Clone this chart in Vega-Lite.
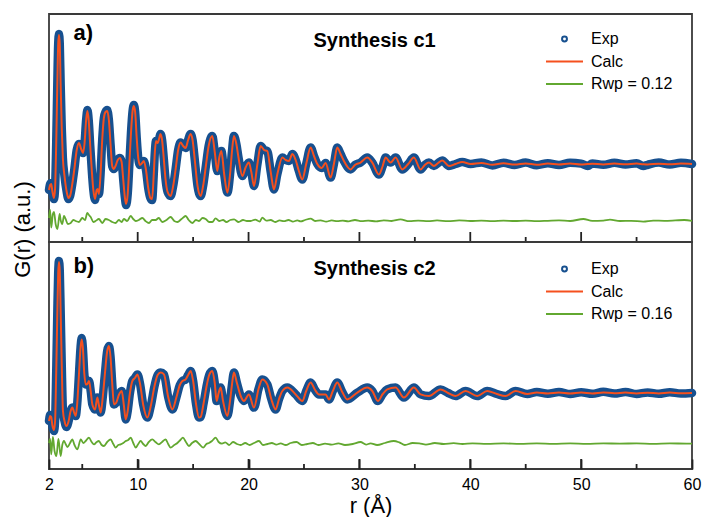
{
  "$schema": "https://vega.github.io/schema/vega-lite/v6.json",
  "padding": {"left": 10, "top": 13, "right": 4, "bottom": 0},
  "bounds": "flush",
  "spacing": 0,
  "config": {
    "font": "Liberation Sans",
    "view": {"stroke": "#3a3a3a", "strokeWidth": 1.8},
    "axis": {"labelFont": "Liberation Sans", "titleFont": "Liberation Sans", "labelColor": "#000", "titleColor": "#000", "titleFontWeight": "normal"}
  },
  "resolve": {"scale": {"color": "independent", "y": "independent"}, "legend": {"color": "independent"}},
  "datasets": {
    "fit": [
      {"p":"a","r":2.0,"e":-1.3,"c":-1.3},{"p":"a","r":2.1,"e":-1.0,"c":-1.05},{"p":"a","r":2.2,"e":-0.95,"c":-1.0},{"p":"a","r":2.3,"e":-1.4,"c":-1.35},{"p":"a","r":2.45,"e":-1.75,"c":-1.7},{"p":"a","r":2.55,"e":-1.2,"c":-1.2},{"p":"a","r":2.65,"e":1.0,"c":1.0},{"p":"a","r":2.75,"e":4.0,"c":4.0},{"p":"a","r":2.83,"e":6.0,"c":6.0},{"p":"a","r":2.9,"e":6.5,"c":6.45},{"p":"a","r":2.97,"e":6.0,"c":6.0},{"p":"a","r":3.05,"e":4.0,"c":4.0},{"p":"a","r":3.15,"e":1.8,"c":1.8},{"p":"a","r":3.25,"e":0.3,"c":0.3},{"p":"a","r":3.4,"e":-0.6,"c":-0.6},{"p":"a","r":3.6,"e":-1.4,"c":-1.4},{"p":"a","r":3.75,"e":-1.75,"c":-1.7},{"p":"a","r":3.9,"e":-1.6,"c":-1.6},{"p":"a","r":4.1,"e":-1.0,"c":-1.0},{"p":"a","r":4.3,"e":-0.2,"c":-0.2},{"p":"a","r":4.5,"e":0.7,"c":0.7},{"p":"a","r":4.7,"e":1.0,"c":1.05},{"p":"a","r":4.9,"e":0.75,"c":0.75},{"p":"a","r":5.07,"e":0.55,"c":0.55},{"p":"a","r":5.2,"e":1.0,"c":1.0},{"p":"a","r":5.35,"e":2.2,"c":2.2},{"p":"a","r":5.46,"e":2.7,"c":2.65},{"p":"a","r":5.58,"e":2.2,"c":2.2},{"p":"a","r":5.72,"e":0.9,"c":0.9},{"p":"a","r":5.87,"e":-0.4,"c":-0.4},{"p":"a","r":6.0,"e":-1.3,"c":-1.3},{"p":"a","r":6.15,"e":-1.8,"c":-1.75},{"p":"a","r":6.3,"e":-1.3,"c":-1.3},{"p":"a","r":6.4,"e":-1.25,"c":-1.25},{"p":"a","r":6.5,"e":-1.5,"c":-1.5},{"p":"a","r":6.65,"e":-0.5,"c":-0.5},{"p":"a","r":6.8,"e":1.2,"c":1.2},{"p":"a","r":6.95,"e":2.3,"c":2.3},{"p":"a","r":7.1,"e":2.6,"c":2.6},{"p":"a","r":7.25,"e":2.7,"c":2.65},{"p":"a","r":7.4,"e":2.2,"c":2.2},{"p":"a","r":7.55,"e":1.0,"c":1.0},{"p":"a","r":7.7,"e":-0.1,"c":-0.1},{"p":"a","r":7.85,"e":-0.25,"c":-0.25},{"p":"a","r":8.0,"e":-0.1,"c":-0.1},{"p":"a","r":8.2,"e":0.2,"c":0.2},{"p":"a","r":8.4,"e":0.3,"c":0.3},{"p":"a","r":8.55,"e":0.1,"c":0.1},{"p":"a","r":8.7,"e":-0.8,"c":-0.8},{"p":"a","r":8.85,"e":-1.7,"c":-1.7},{"p":"a","r":8.95,"e":-2.05,"c":-2.0},{"p":"a","r":9.1,"e":-1.5,"c":-1.5},{"p":"a","r":9.25,"e":0.0,"c":0.0},{"p":"a","r":9.4,"e":1.6,"c":1.6},{"p":"a","r":9.55,"e":2.7,"c":2.7},{"p":"a","r":9.65,"e":2.95,"c":2.9},{"p":"a","r":9.77,"e":2.6,"c":2.6},{"p":"a","r":9.9,"e":1.4,"c":1.4},{"p":"a","r":10.05,"e":0.3,"c":0.3},{"p":"a","r":10.2,"e":-0.05,"c":-0.05},{"p":"a","r":10.4,"e":0.05,"c":0.05},{"p":"a","r":10.55,"e":0.15,"c":0.15},{"p":"a","r":10.75,"e":-0.3,"c":-0.3},{"p":"a","r":10.95,"e":-1.2,"c":-1.2},{"p":"a","r":11.15,"e":-1.7,"c":-1.7},{"p":"a","r":11.3,"e":-1.8,"c":-1.75},{"p":"a","r":11.45,"e":-0.5,"c":-0.5},{"p":"a","r":11.55,"e":0.6,"c":0.6},{"p":"a","r":11.65,"e":1.15,"c":1.15},{"p":"a","r":11.8,"e":1.05,"c":1.05},{"p":"a","r":11.95,"e":1.3,"c":1.3},{"p":"a","r":12.05,"e":1.5,"c":1.5},{"p":"a","r":12.2,"e":1.2,"c":1.2},{"p":"a","r":12.35,"e":0.3,"c":0.3},{"p":"a","r":12.5,"e":-0.7,"c":-0.7},{"p":"a","r":12.7,"e":-1.4,"c":-1.4},{"p":"a","r":12.97,"e":-1.6,"c":-1.6},{"p":"a","r":13.2,"e":-1.1,"c":-1.1},{"p":"a","r":13.42,"e":-0.27,"c":-0.27},{"p":"a","r":13.65,"e":0.7,"c":0.7},{"p":"a","r":13.87,"e":1.07,"c":1.07},{"p":"a","r":14.1,"e":0.9,"c":0.9},{"p":"a","r":14.32,"e":0.8,"c":0.8},{"p":"a","r":14.55,"e":1.2,"c":1.2},{"p":"a","r":14.77,"e":1.5,"c":1.5},{"p":"a","r":14.95,"e":1.2,"c":1.2},{"p":"a","r":15.15,"e":0.2,"c":0.2},{"p":"a","r":15.4,"e":-1.1,"c":-1.1},{"p":"a","r":15.68,"e":-1.6,"c":-1.6},{"p":"a","r":15.9,"e":-1.1,"c":-1.1},{"p":"a","r":16.15,"e":-0.1,"c":-0.1},{"p":"a","r":16.4,"e":0.9,"c":0.9},{"p":"a","r":16.73,"e":1.4,"c":1.4},{"p":"a","r":16.95,"e":0.6,"c":0.6},{"p":"a","r":17.18,"e":-0.35,"c":-0.35},{"p":"a","r":17.35,"e":0.3,"c":0.3},{"p":"a","r":17.55,"e":0.65,"c":0.65},{"p":"a","r":17.8,"e":-0.5,"c":-0.5},{"p":"a","r":18.09,"e":-1.43,"c":-1.43},{"p":"a","r":18.35,"e":-0.4,"c":-0.4},{"p":"a","r":18.5,"e":0.6,"c":0.6},{"p":"a","r":18.68,"e":1.4,"c":1.4},{"p":"a","r":18.9,"e":1.0,"c":1.0},{"p":"a","r":19.1,"e":0.3,"c":0.3},{"p":"a","r":19.44,"e":-0.6,"c":-0.6},{"p":"a","r":19.75,"e":-0.15,"c":-0.15},{"p":"a","r":20.03,"e":0.07,"c":0.07},{"p":"a","r":20.25,"e":-0.4,"c":-0.4},{"p":"a","r":20.49,"e":-1.1,"c":-1.1},{"p":"a","r":20.8,"e":0.0,"c":0.0},{"p":"a","r":21.09,"e":0.9,"c":0.9},{"p":"a","r":21.4,"e":0.7,"c":0.7},{"p":"a","r":21.69,"e":0.65,"c":0.65},{"p":"a","r":22.0,"e":-0.4,"c":-0.4},{"p":"a","r":22.29,"e":-1.27,"c":-1.27},{"p":"a","r":22.6,"e":-0.5,"c":-0.5},{"p":"a","r":23.05,"e":0.32,"c":0.32},{"p":"a","r":23.35,"e":0.2,"c":0.2},{"p":"a","r":23.64,"e":0.15,"c":0.15},{"p":"a","r":23.95,"e":0.5,"c":0.5},{"p":"a","r":24.25,"e":0.2,"c":0.2},{"p":"a","r":24.54,"e":-0.35,"c":-0.35},{"p":"a","r":24.85,"e":-0.77,"c":-0.77},{"p":"a","r":25.2,"e":0.0,"c":0.0},{"p":"a","r":25.6,"e":0.82,"c":0.82},{"p":"a","r":25.9,"e":0.4,"c":0.4},{"p":"a","r":26.2,"e":0.0,"c":0.0},{"p":"a","r":26.6,"e":-0.2,"c":-0.2},{"p":"a","r":26.95,"e":0.05,"c":0.05},{"p":"a","r":27.4,"e":-0.68,"c":-0.68},{"p":"a","r":27.7,"e":0.0,"c":0.0},{"p":"a","r":28.0,"e":0.82,"c":0.82},{"p":"a","r":28.3,"e":0.5,"c":0.5},{"p":"a","r":28.6,"e":0.15,"c":0.15},{"p":"a","r":29.2,"e":-0.27,"c":-0.27},{"p":"a","r":29.6,"e":-0.05,"c":-0.05},{"p":"a","r":30.1,"e":0.07,"c":0.07},{"p":"a","r":30.71,"e":0.32,"c":0.32},{"p":"a","r":31.16,"e":0.07,"c":0.07},{"p":"a","r":31.76,"e":-0.52,"c":-0.52},{"p":"a","r":32.1,"e":-0.1,"c":-0.1},{"p":"a","r":32.36,"e":0.32,"c":0.32},{"p":"a","r":32.81,"e":0.07,"c":0.07},{"p":"a","r":33.26,"e":0.32,"c":0.32},{"p":"a","r":33.87,"e":-0.27,"c":-0.27},{"p":"a","r":34.4,"e":0.0,"c":0.0},{"p":"a","r":34.91,"e":0.32,"c":0.32},{"p":"a","r":35.52,"e":-0.27,"c":-0.27},{"p":"a","r":35.9,"e":-0.05,"c":-0.05},{"p":"a","r":36.27,"e":0.07,"c":0.07},{"p":"a","r":36.72,"e":-0.1,"c":-0.1},{"p":"a","r":37.1,"e":0.05,"c":0.05},{"p":"a","r":37.47,"e":0.18,"c":0.18},{"p":"a","r":38.07,"e":-0.1,"c":-0.1},{"p":"a","r":38.67,"e":0.0,"c":0.0},{"p":"a","r":39.28,"e":0.1,"c":0.1},{"p":"a","r":40.03,"e":0.0,"c":0.0},{"p":"a","r":41,"e":0.08,"c":0.05},{"p":"a","r":42,"e":-0.07,"c":-0.04},{"p":"a","r":43,"e":0.06,"c":0.04},{"p":"a","r":44,"e":-0.05,"c":-0.03},{"p":"a","r":45,"e":0.07,"c":0.03},{"p":"a","r":46,"e":-0.06,"c":-0.04},{"p":"a","r":47,"e":0.04,"c":0.02},{"p":"a","r":48,"e":-0.05,"c":-0.02},{"p":"a","r":49,"e":0.06,"c":0.03},{"p":"a","r":50,"e":0.02,"c":-0.02},{"p":"a","r":50.6,"e":-0.1,"c":0.0},{"p":"a","r":51,"e":0.03,"c":0.01},{"p":"a","r":52,"e":-0.04,"c":-0.02},{"p":"a","r":53,"e":0.06,"c":0.02},{"p":"a","r":54,"e":-0.03,"c":-0.01},{"p":"a","r":55,"e":0.04,"c":0.02},{"p":"a","r":55.6,"e":-0.1,"c":-0.01},{"p":"a","r":56,"e":-0.04,"c":-0.02},{"p":"a","r":57,"e":0.07,"c":0.01},{"p":"a","r":58,"e":-0.03,"c":-0.01},{"p":"a","r":59,"e":0.06,"c":0.02},{"p":"a","r":60,"e":0.0,"c":0.0},
      {"p":"b","r":2.0,"e":-1.4,"c":-1.4},{"p":"b","r":2.1,"e":-1.1,"c":-1.15},{"p":"b","r":2.2,"e":-1.2,"c":-1.2},{"p":"b","r":2.3,"e":-1.65,"c":-1.6},{"p":"b","r":2.45,"e":-1.9,"c":-1.85},{"p":"b","r":2.55,"e":-1.4,"c":-1.4},{"p":"b","r":2.65,"e":1.0,"c":1.0},{"p":"b","r":2.75,"e":4.0,"c":4.0},{"p":"b","r":2.83,"e":6.0,"c":6.0},{"p":"b","r":2.9,"e":6.6,"c":6.55},{"p":"b","r":2.97,"e":6.1,"c":6.1},{"p":"b","r":3.05,"e":4.1,"c":4.1},{"p":"b","r":3.15,"e":1.4,"c":1.4},{"p":"b","r":3.26,"e":-0.9,"c":-0.9},{"p":"b","r":3.4,"e":-1.4,"c":-1.4},{"p":"b","r":3.57,"e":-1.7,"c":-1.65},{"p":"b","r":3.75,"e":-1.45,"c":-1.45},{"p":"b","r":3.95,"e":-0.9,"c":-0.9},{"p":"b","r":4.11,"e":-0.73,"c":-0.73},{"p":"b","r":4.25,"e":-0.95,"c":-0.95},{"p":"b","r":4.41,"e":-1.15,"c":-1.15},{"p":"b","r":4.55,"e":-0.5,"c":-0.5},{"p":"b","r":4.7,"e":0.9,"c":0.9},{"p":"b","r":4.85,"e":2.3,"c":2.3},{"p":"b","r":4.95,"e":2.75,"c":2.68},{"p":"b","r":5.05,"e":2.3,"c":2.3},{"p":"b","r":5.18,"e":1.0,"c":1.0},{"p":"b","r":5.31,"e":0.43,"c":0.43},{"p":"b","r":5.45,"e":0.45,"c":0.45},{"p":"b","r":5.61,"e":0.6,"c":0.6},{"p":"b","r":5.76,"e":0.1,"c":0.1},{"p":"b","r":5.91,"e":-0.57,"c":-0.57},{"p":"b","r":6.15,"e":-0.82,"c":-0.82},{"p":"b","r":6.36,"e":-0.23,"c":-0.23},{"p":"b","r":6.5,"e":-0.6,"c":-0.6},{"p":"b","r":6.66,"e":-0.98,"c":-0.98},{"p":"b","r":6.85,"e":-0.2,"c":-0.2},{"p":"b","r":7.05,"e":1.0,"c":1.0},{"p":"b","r":7.25,"e":2.1,"c":2.1},{"p":"b","r":7.41,"e":2.35,"c":2.35},{"p":"b","r":7.55,"e":1.8,"c":1.8},{"p":"b","r":7.7,"e":0.5,"c":0.5},{"p":"b","r":7.86,"e":-0.57,"c":-0.57},{"p":"b","r":8.05,"e":-0.5,"c":-0.5},{"p":"b","r":8.3,"e":-0.1,"c":-0.1},{"p":"b","r":8.56,"e":0.1,"c":0.1},{"p":"b","r":8.75,"e":-0.6,"c":-0.6},{"p":"b","r":8.92,"e":-1.32,"c":-1.32},{"p":"b","r":9.1,"e":-0.9,"c":-0.9},{"p":"b","r":9.3,"e":0.0,"c":0.0},{"p":"b","r":9.52,"e":0.6,"c":0.6},{"p":"b","r":9.75,"e":0.75,"c":0.75},{"p":"b","r":9.97,"e":0.93,"c":0.93},{"p":"b","r":10.2,"e":0.5,"c":0.5},{"p":"b","r":10.5,"e":-0.6,"c":-0.6},{"p":"b","r":10.87,"e":-1.23,"c":-1.23},{"p":"b","r":11.2,"e":-0.6,"c":-0.6},{"p":"b","r":11.5,"e":0.3,"c":0.3},{"p":"b","r":11.8,"e":0.9,"c":0.9},{"p":"b","r":12.07,"e":1.02,"c":1.02},{"p":"b","r":12.37,"e":0.93,"c":0.93},{"p":"b","r":12.75,"e":-0.2,"c":-0.2},{"p":"b","r":13.13,"e":-0.82,"c":-0.82},{"p":"b","r":13.5,"e":-0.2,"c":-0.2},{"p":"b","r":13.8,"e":0.4,"c":0.4},{"p":"b","r":14.03,"e":0.6,"c":0.6},{"p":"b","r":14.33,"e":0.68,"c":0.68},{"p":"b","r":14.55,"e":0.9,"c":0.9},{"p":"b","r":14.78,"e":1.1,"c":1.1},{"p":"b","r":15.0,"e":0.6,"c":0.6},{"p":"b","r":15.25,"e":-0.5,"c":-0.5},{"p":"b","r":15.53,"e":-1.23,"c":-1.23},{"p":"b","r":15.68,"e":-1.2,"c":-1.2},{"p":"b","r":15.95,"e":-0.5,"c":-0.5},{"p":"b","r":16.2,"e":0.3,"c":0.3},{"p":"b","r":16.45,"e":0.9,"c":0.9},{"p":"b","r":16.73,"e":1.1,"c":1.1},{"p":"b","r":16.95,"e":0.5,"c":0.5},{"p":"b","r":17.12,"e":-0.4,"c":-0.4},{"p":"b","r":17.3,"e":0.0,"c":0.0},{"p":"b","r":17.48,"e":0.27,"c":0.27},{"p":"b","r":17.7,"e":-0.4,"c":-0.4},{"p":"b","r":18.09,"e":-1.15,"c":-1.15},{"p":"b","r":18.35,"e":-0.3,"c":-0.3},{"p":"b","r":18.5,"e":0.4,"c":0.4},{"p":"b","r":18.68,"e":1.02,"c":1.02},{"p":"b","r":18.95,"e":0.5,"c":0.5},{"p":"b","r":19.29,"e":-0.15,"c":-0.15},{"p":"b","r":19.58,"e":-0.4,"c":-0.4},{"p":"b","r":20.03,"e":-0.07,"c":-0.07},{"p":"b","r":20.49,"e":-0.73,"c":-0.73},{"p":"b","r":20.9,"e":0.2,"c":0.2},{"p":"b","r":21.24,"e":0.68,"c":0.68},{"p":"b","r":21.69,"e":0.43,"c":0.43},{"p":"b","r":22.05,"e":-0.3,"c":-0.3},{"p":"b","r":22.44,"e":-0.82,"c":-0.82},{"p":"b","r":22.75,"e":-0.3,"c":-0.3},{"p":"b","r":23.05,"e":0.1,"c":0.1},{"p":"b","r":23.5,"e":0.27,"c":0.27},{"p":"b","r":24.25,"e":-0.07,"c":-0.07},{"p":"b","r":24.85,"e":-0.4,"c":-0.4},{"p":"b","r":25.2,"e":0.1,"c":0.1},{"p":"b","r":25.6,"e":0.52,"c":0.52},{"p":"b","r":26.0,"e":0.15,"c":0.15},{"p":"b","r":26.35,"e":-0.07,"c":-0.07},{"p":"b","r":26.95,"e":-0.07,"c":-0.07},{"p":"b","r":27.25,"e":-0.32,"c":-0.32},{"p":"b","r":27.6,"e":0.1,"c":0.1},{"p":"b","r":28.0,"e":0.52,"c":0.52},{"p":"b","r":28.45,"e":0.05,"c":0.05},{"p":"b","r":28.9,"e":-0.32,"c":-0.32},{"p":"b","r":29.81,"e":0.02,"c":0.02},{"p":"b","r":30.71,"e":0.27,"c":0.27},{"p":"b","r":31.16,"e":0.1,"c":0.1},{"p":"b","r":31.67,"e":-0.4,"c":-0.4},{"p":"b","r":32.1,"e":-0.05,"c":-0.05},{"p":"b","r":32.51,"e":0.18,"c":0.18},{"p":"b","r":33.26,"e":0.27,"c":0.27},{"p":"b","r":34.01,"e":-0.23,"c":-0.23},{"p":"b","r":34.91,"e":0.27,"c":0.27},{"p":"b","r":35.52,"e":-0.07,"c":-0.07},{"p":"b","r":36.27,"e":-0.15,"c":-0.15},{"p":"b","r":37.32,"e":0.18,"c":0.18},{"p":"b","r":38.0,"e":0.0,"c":0.0},{"p":"b","r":38.67,"e":-0.15,"c":-0.15},{"p":"b","r":39.57,"e":0.1,"c":0.1},{"p":"b","r":40.63,"e":-0.15,"c":-0.15},{"p":"b","r":41.53,"e":0.1,"c":0.1},{"p":"b","r":42.4,"e":-0.05,"c":-0.05},{"p":"b","r":43.18,"e":-0.15,"c":-0.15},{"p":"b","r":44.08,"e":0.1,"c":0.1},{"p":"b","r":45.14,"e":-0.05,"c":-0.05},{"p":"b","r":46,"e":0.05,"c":0.03},{"p":"b","r":47,"e":-0.04,"c":-0.02},{"p":"b","r":48,"e":0.05,"c":0.02},{"p":"b","r":49,"e":-0.05,"c":-0.03},{"p":"b","r":50,"e":0.04,"c":0.02},{"p":"b","r":51,"e":-0.04,"c":-0.02},{"p":"b","r":52,"e":0.06,"c":0.03},{"p":"b","r":53,"e":-0.03,"c":-0.01},{"p":"b","r":54,"e":0.05,"c":0.02},{"p":"b","r":55,"e":-0.05,"c":-0.02},{"p":"b","r":56,"e":0.03,"c":0.01},{"p":"b","r":57,"e":-0.04,"c":-0.02},{"p":"b","r":58,"e":0.04,"c":0.02},{"p":"b","r":59,"e":-0.03,"c":-0.01},{"p":"b","r":60,"e":0.0,"c":0.0}
    ],
    "diff": [
      {"p":"a","r":2.0,"d":-2.7},{"p":"a","r":2.1,"d":-2.3},{"p":"a","r":2.2,"d":-3.18},{"p":"a","r":2.35,"d":-2.5},{"p":"a","r":2.45,"d":-2.4},{"p":"a","r":2.6,"d":-3.0},{"p":"a","r":2.76,"d":-3.25},{"p":"a","r":2.96,"d":-2.5},{"p":"a","r":3.05,"d":-2.8},{"p":"a","r":3.2,"d":-3.0},{"p":"a","r":3.35,"d":-2.6},{"p":"a","r":3.5,"d":-2.75},{"p":"a","r":3.7,"d":-3.0},{"p":"a","r":3.96,"d":-2.95},{"p":"a","r":4.2,"d":-2.8},{"p":"a","r":4.4,"d":-2.85},{"p":"a","r":4.7,"d":-2.9},{"p":"a","r":5.0,"d":-2.7},{"p":"a","r":5.25,"d":-2.8},{"p":"a","r":5.46,"d":-2.45},{"p":"a","r":5.6,"d":-2.55},{"p":"a","r":5.76,"d":-2.65},{"p":"a","r":6.0,"d":-2.9},{"p":"a","r":6.2,"d":-2.85},{"p":"a","r":6.5,"d":-2.75},{"p":"a","r":6.81,"d":-2.95},{"p":"a","r":7.1,"d":-2.75},{"p":"a","r":7.4,"d":-2.8},{"p":"a","r":7.7,"d":-2.9},{"p":"a","r":8.0,"d":-2.95},{"p":"a","r":8.3,"d":-2.8},{"p":"a","r":8.55,"d":-2.9},{"p":"a","r":8.76,"d":-2.75},{"p":"a","r":9.05,"d":-2.85},{"p":"a","r":9.37,"d":-2.6},{"p":"a","r":9.6,"d":-2.75},{"p":"a","r":9.82,"d":-2.85},{"p":"a","r":10.1,"d":-2.8},{"p":"a","r":10.42,"d":-2.7},{"p":"a","r":10.7,"d":-2.85},{"p":"a","r":11.02,"d":-2.95},{"p":"a","r":11.3,"d":-2.8},{"p":"a","r":11.62,"d":-2.8},{"p":"a","r":11.9,"d":-2.7},{"p":"a","r":12.22,"d":-2.9},{"p":"a","r":12.6,"d":-2.8},{"p":"a","r":12.97,"d":-2.65},{"p":"a","r":13.3,"d":-2.85},{"p":"a","r":13.58,"d":-2.9},{"p":"a","r":13.95,"d":-2.75},{"p":"a","r":14.33,"d":-2.6},{"p":"a","r":14.6,"d":-2.8},{"p":"a","r":14.93,"d":-2.95},{"p":"a","r":15.25,"d":-2.8},{"p":"a","r":15.53,"d":-2.85},{"p":"a","r":15.85,"d":-2.7},{"p":"a","r":16.13,"d":-2.75},{"p":"a","r":16.45,"d":-2.9},{"p":"a","r":16.73,"d":-2.9},{"p":"a","r":17.03,"d":-2.72},{"p":"a","r":17.35,"d":-2.85},{"p":"a","r":17.7,"d":-2.8},{"p":"a","r":18.0,"d":-2.9},{"p":"a","r":18.35,"d":-2.8},{"p":"a","r":18.7,"d":-2.77},{"p":"a","r":19.1,"d":-2.9},{"p":"a","r":19.5,"d":-2.8},{"p":"a","r":19.85,"d":-2.85},{"p":"a","r":20.2,"d":-2.85},{"p":"a","r":20.6,"d":-2.78},{"p":"a","r":21.0,"d":-2.88},{"p":"a","r":21.24,"d":-2.68},{"p":"a","r":21.6,"d":-2.83},{"p":"a","r":22.0,"d":-2.8},{"p":"a","r":22.4,"d":-2.9},{"p":"a","r":22.8,"d":-2.82},{"p":"a","r":23.2,"d":-2.86},{"p":"a","r":23.6,"d":-2.8},{"p":"a","r":24.0,"d":-2.88},{"p":"a","r":24.4,"d":-2.82},{"p":"a","r":24.7,"d":-2.87},{"p":"a","r":25.1,"d":-2.8},{"p":"a","r":25.6,"d":-2.73},{"p":"a","r":26.0,"d":-2.85},{"p":"a","r":26.5,"d":-2.82},{"p":"a","r":27.0,"d":-2.88},{"p":"a","r":27.5,"d":-2.82},{"p":"a","r":28.0,"d":-2.86},{"p":"a","r":28.5,"d":-2.83},{"p":"a","r":29.0,"d":-2.87},{"p":"a","r":29.6,"d":-2.8},{"p":"a","r":30.2,"d":-2.86},{"p":"a","r":30.8,"d":-2.83},{"p":"a","r":31.5,"d":-2.87},{"p":"a","r":32.2,"d":-2.82},{"p":"a","r":32.9,"d":-2.85},{"p":"a","r":33.7,"d":-2.77},{"p":"a","r":34.5,"d":-2.86},{"p":"a","r":35.3,"d":-2.83},{"p":"a","r":36.2,"d":-2.86},{"p":"a","r":37.0,"d":-2.82},{"p":"a","r":38.0,"d":-2.86},{"p":"a","r":39.0,"d":-2.82},{"p":"a","r":40.0,"d":-2.85},{"p":"a","r":41.0,"d":-2.83},{"p":"a","r":42.0,"d":-2.86},{"p":"a","r":43.0,"d":-2.83},{"p":"a","r":44.0,"d":-2.85},{"p":"a","r":45.0,"d":-2.83},{"p":"a","r":46.0,"d":-2.86},{"p":"a","r":47.0,"d":-2.84},{"p":"a","r":48.0,"d":-2.82},{"p":"a","r":49.0,"d":-2.85},{"p":"a","r":50.2,"d":-2.75},{"p":"a","r":51.0,"d":-2.84},{"p":"a","r":52.0,"d":-2.83},{"p":"a","r":52.6,"d":-2.78},{"p":"a","r":53.5,"d":-2.85},{"p":"a","r":54.5,"d":-2.84},{"p":"a","r":55.6,"d":-2.88},{"p":"a","r":56.5,"d":-2.83},{"p":"a","r":57.5,"d":-2.84},{"p":"a","r":58.5,"d":-2.82},{"p":"a","r":59.3,"d":-2.8},{"p":"a","r":60.0,"d":-2.84},
      {"p":"b","r":2.0,"d":-2.5},{"p":"b","r":2.1,"d":-2.3},{"p":"b","r":2.2,"d":-3.07},{"p":"b","r":2.35,"d":-2.2},{"p":"b","r":2.5,"d":-2.9},{"p":"b","r":2.67,"d":-3.15},{"p":"b","r":2.85,"d":-2.3},{"p":"b","r":3.05,"d":-3.15},{"p":"b","r":3.2,"d":-2.6},{"p":"b","r":3.35,"d":-2.4},{"p":"b","r":3.5,"d":-2.55},{"p":"b","r":3.66,"d":-2.7},{"p":"b","r":3.9,"d":-2.5},{"p":"b","r":4.1,"d":-2.32},{"p":"b","r":4.3,"d":-2.6},{"p":"b","r":4.56,"d":-2.82},{"p":"b","r":4.86,"d":-2.32},{"p":"b","r":5.1,"d":-2.5},{"p":"b","r":5.31,"d":-2.4},{"p":"b","r":5.6,"d":-2.23},{"p":"b","r":5.85,"d":-2.45},{"p":"b","r":6.06,"d":-2.57},{"p":"b","r":6.3,"d":-2.45},{"p":"b","r":6.5,"d":-2.4},{"p":"b","r":6.75,"d":-2.6},{"p":"b","r":6.96,"d":-2.65},{"p":"b","r":7.25,"d":-2.45},{"p":"b","r":7.56,"d":-2.32},{"p":"b","r":7.8,"d":-2.55},{"p":"b","r":8.01,"d":-2.73},{"p":"b","r":8.25,"d":-2.6},{"p":"b","r":8.46,"d":-2.57},{"p":"b","r":8.7,"d":-2.5},{"p":"b","r":8.92,"d":-2.4},{"p":"b","r":9.15,"d":-2.35},{"p":"b","r":9.37,"d":-2.23},{"p":"b","r":9.6,"d":-2.5},{"p":"b","r":9.82,"d":-2.73},{"p":"b","r":10.05,"d":-2.55},{"p":"b","r":10.27,"d":-2.4},{"p":"b","r":10.5,"d":-2.55},{"p":"b","r":10.72,"d":-2.65},{"p":"b","r":11.0,"d":-2.45},{"p":"b","r":11.32,"d":-2.32},{"p":"b","r":11.6,"d":-2.45},{"p":"b","r":11.92,"d":-2.57},{"p":"b","r":12.2,"d":-2.45},{"p":"b","r":12.52,"d":-2.32},{"p":"b","r":12.75,"d":-2.55},{"p":"b","r":12.97,"d":-2.73},{"p":"b","r":13.3,"d":-2.6},{"p":"b","r":13.58,"d":-2.5},{"p":"b","r":13.85,"d":-2.35},{"p":"b","r":14.08,"d":-2.23},{"p":"b","r":14.35,"d":-2.45},{"p":"b","r":14.62,"d":-2.65},{"p":"b","r":14.9,"d":-2.5},{"p":"b","r":15.23,"d":-2.4},{"p":"b","r":15.55,"d":-2.55},{"p":"b","r":15.9,"d":-2.73},{"p":"b","r":16.2,"d":-2.55},{"p":"b","r":16.43,"d":-2.5},{"p":"b","r":16.7,"d":-2.4},{"p":"b","r":17.03,"d":-2.23},{"p":"b","r":17.3,"d":-2.45},{"p":"b","r":17.6,"d":-2.53},{"p":"b","r":17.9,"d":-2.47},{"p":"b","r":18.25,"d":-2.6},{"p":"b","r":18.6,"d":-2.45},{"p":"b","r":18.95,"d":-2.55},{"p":"b","r":19.3,"d":-2.6},{"p":"b","r":19.7,"d":-2.5},{"p":"b","r":20.1,"d":-2.6},{"p":"b","r":20.5,"d":-2.5},{"p":"b","r":20.94,"d":-2.4},{"p":"b","r":21.3,"d":-2.6},{"p":"b","r":21.7,"d":-2.55},{"p":"b","r":22.1,"d":-2.5},{"p":"b","r":22.5,"d":-2.58},{"p":"b","r":22.9,"d":-2.52},{"p":"b","r":23.35,"d":-2.6},{"p":"b","r":23.8,"d":-2.5},{"p":"b","r":24.33,"d":-2.45},{"p":"b","r":24.8,"d":-2.6},{"p":"b","r":25.3,"d":-2.55},{"p":"b","r":25.8,"d":-2.5},{"p":"b","r":26.3,"d":-2.6},{"p":"b","r":26.9,"d":-2.53},{"p":"b","r":27.5,"d":-2.58},{"p":"b","r":28.1,"d":-2.52},{"p":"b","r":28.7,"d":-2.6},{"p":"b","r":29.4,"d":-2.55},{"p":"b","r":30.1,"d":-2.45},{"p":"b","r":30.6,"d":-2.58},{"p":"b","r":31.0,"d":-2.52},{"p":"b","r":31.6,"d":-2.6},{"p":"b","r":32.3,"d":-2.5},{"p":"b","r":33.1,"d":-2.4},{"p":"b","r":33.6,"d":-2.47},{"p":"b","r":34.1,"d":-2.6},{"p":"b","r":34.8,"d":-2.5},{"p":"b","r":35.4,"d":-2.52},{"p":"b","r":36.0,"d":-2.58},{"p":"b","r":36.8,"d":-2.5},{"p":"b","r":37.6,"d":-2.55},{"p":"b","r":38.5,"d":-2.51},{"p":"b","r":39.3,"d":-2.55},{"p":"b","r":40.2,"d":-2.52},{"p":"b","r":41.5,"d":-2.54},{"p":"b","r":43.0,"d":-2.52},{"p":"b","r":44.5,"d":-2.54},{"p":"b","r":46.0,"d":-2.52},{"p":"b","r":47.5,"d":-2.54},{"p":"b","r":49.0,"d":-2.52},{"p":"b","r":50.5,"d":-2.54},{"p":"b","r":52.0,"d":-2.52},{"p":"b","r":53.5,"d":-2.53},{"p":"b","r":55.0,"d":-2.52},{"p":"b","r":56.5,"d":-2.54},{"p":"b","r":58.0,"d":-2.52},{"p":"b","r":59.5,"d":-2.53},{"p":"b","r":60.0,"d":-2.53}
    ],
    "tickvals": [
      {"r":10,"k":"major"},{"r":20,"k":"major"},{"r":30,"k":"major"},{"r":40,"k":"major"},{"r":50,"k":"major"},
      {"r":5,"k":"minor"},{"r":15,"k":"minor"},{"r":25,"k":"minor"},{"r":35,"k":"minor"},{"r":45,"k":"minor"},{"r":55,"k":"minor"}
    ],
    "labels": [
      {"p":"a","tag":"a)","title":"Synthesis c1"},
      {"p":"b","tag":"b)","title":"Synthesis c2"}
    ]
  },
  "vconcat": [
    {
      "width": 643,
      "height": 228,
      "layer": [
        {
          "data": {"name": "fit"},
          "transform": [{"filter": "datum.p === 'a'"}],
          "mark": {"type": "line", "strokeWidth": 8.5, "interpolate": "monotone", "strokeJoin": "round", "strokeCap": "round"},
          "encoding": {
            "x": {"field": "r", "type": "quantitative", "scale": {"domain": [2, 60], "nice": false, "zero": false}, "axis": null},
            "y": {"field": "e", "type": "quantitative", "scale": {"domain": [-3.9, 7.5], "nice": false, "zero": false},
              "axis": {"title": "G(r) (a.u.)", "labels": false, "ticks": false, "domain": false, "grid": false,
                "titleFontSize": 22, "titleX": -27, "titleY": 215, "titleAngle": -90, "titleAlign": "center", "titleBaseline": "middle"}},
            "color": {"datum": "Exp", "scale": {"domain": ["Exp", "Calc", "Rwp = 0.12"], "range": ["#17508f", "#f5501e", "#62a830"]},
              "legend": {"orient": "none", "legendX": 496, "legendY": 17, "title": null, "padding": 0,
                "symbolSize": 1369, "symbolStrokeWidth": 2, "clipHeight": 16, "rowPadding": 6.5,
                "labelFont": "Liberation Sans", "labelFontSize": 16, "labelColor": "#000", "labelOffset": 7,
                "encode": {"symbols": {"update": {
                  "shape": {"signal": "datum.value === 'Exp' ? 'circle' : 'stroke'"},
                  "size": {"signal": "datum.value === 'Exp' ? 24 : 1369"},
                  "fill": {"signal": "datum.value === 'Exp' ? '#ffffff' : 'transparent'"},
                  "strokeWidth": {"value": 2}}}}}}
          }
        },
        {
          "data": {"name": "fit"},
          "transform": [{"filter": "datum.p === 'a'"}],
          "mark": {"type": "line", "strokeWidth": 2, "interpolate": "monotone"},
          "encoding": {
            "x": {"field": "r", "type": "quantitative"},
            "y": {"field": "c", "type": "quantitative"},
            "color": {"datum": "Calc"}
          }
        },
        {
          "data": {"name": "diff"},
          "transform": [{"filter": "datum.p === 'a'"}],
          "mark": {"type": "line", "strokeWidth": 1.8, "interpolate": "monotone"},
          "encoding": {
            "x": {"field": "r", "type": "quantitative"},
            "y": {"field": "d", "type": "quantitative"},
            "color": {"datum": "Rwp = 0.12"}
          }
        },
        {
          "data": {"name": "tickvals"},
          "transform": [{"filter": "datum.k === 'major'"}],
          "mark": {"type": "tick", "orient": "vertical", "color": "#222222", "thickness": 1.8, "size": 20, "clip": true, "opacity": 1},
          "encoding": {"x": {"field": "r", "type": "quantitative"}, "y": {"datum": -3.9}}
        },
        {
          "data": {"name": "tickvals"},
          "transform": [{"filter": "datum.k === 'minor'"}],
          "mark": {"type": "tick", "orient": "vertical", "color": "#222222", "thickness": 1.8, "size": 10, "clip": true, "opacity": 1},
          "encoding": {"x": {"field": "r", "type": "quantitative"}, "y": {"datum": -3.9}}
        },
        {
          "data": {"name": "labels"},
          "transform": [{"filter": "datum.p === 'a'"}],
          "mark": {"type": "text", "font": "Liberation Sans", "fontWeight": "bold", "fontSize": 22, "align": "left", "baseline": "alphabetic", "color": "#000"},
          "encoding": {"x": {"datum": 4.2}, "y": {"datum": 6.18}, "text": {"field": "tag"}}
        },
        {
          "data": {"name": "labels"},
          "transform": [{"filter": "datum.p === 'a'"}],
          "mark": {"type": "text", "font": "Liberation Sans", "fontWeight": "bold", "fontSize": 20, "align": "center", "baseline": "middle", "color": "#000"},
          "encoding": {"x": {"datum": 31.37}, "y": {"datum": 6.15}, "text": {"field": "title"}}
        }
      ]
    },
    {
      "width": 643,
      "height": 227,
      "layer": [
        {
          "data": {"name": "fit"},
          "transform": [{"filter": "datum.p === 'b'"}],
          "mark": {"type": "line", "strokeWidth": 8.5, "interpolate": "monotone", "strokeJoin": "round", "strokeCap": "round"},
          "encoding": {
            "x": {"field": "r", "type": "quantitative", "scale": {"domain": [2, 60], "nice": false, "zero": false},
              "axis": {"orient": "bottom", "offset": -10, "title": "r (Å)", "titleFontSize": 22, "titlePadding": 3, "domain": false, "grid": false,
                "values": [2,10,20,30,40,50,60],
                "labelFontSize": 16, "labelFlush": false, "labelOverlap": false, "labelPadding": 7,
                "tickColor": "#222222", "tickWidth": 1.8, "tickSize": 10}},
            "y": {"field": "e", "type": "quantitative", "scale": {"domain": [-3.8, 7.55], "nice": false, "zero": false}, "axis": null},
            "color": {"datum": "Exp", "scale": {"domain": ["Exp", "Calc", "Rwp = 0.16"], "range": ["#17508f", "#f5501e", "#62a830"]},
              "legend": {"orient": "none", "legendX": 496, "legendY": 19, "title": null, "padding": 0,
                "symbolSize": 1369, "symbolStrokeWidth": 2, "clipHeight": 16, "rowPadding": 6.5,
                "labelFont": "Liberation Sans", "labelFontSize": 16, "labelColor": "#000", "labelOffset": 7,
                "encode": {"symbols": {"update": {
                  "shape": {"signal": "datum.value === 'Exp' ? 'circle' : 'stroke'"},
                  "size": {"signal": "datum.value === 'Exp' ? 24 : 1369"},
                  "fill": {"signal": "datum.value === 'Exp' ? '#ffffff' : 'transparent'"},
                  "strokeWidth": {"value": 2}}}}}}
          }
        },
        {
          "data": {"name": "fit"},
          "transform": [{"filter": "datum.p === 'b'"}],
          "mark": {"type": "line", "strokeWidth": 2, "interpolate": "monotone"},
          "encoding": {
            "x": {"field": "r", "type": "quantitative"},
            "y": {"field": "c", "type": "quantitative"},
            "color": {"datum": "Calc"}
          }
        },
        {
          "data": {"name": "diff"},
          "transform": [{"filter": "datum.p === 'b'"}],
          "mark": {"type": "line", "strokeWidth": 1.8, "interpolate": "monotone"},
          "encoding": {
            "x": {"field": "r", "type": "quantitative"},
            "y": {"field": "d", "type": "quantitative"},
            "color": {"datum": "Rwp = 0.16"}
          }
        },
        {
          "data": {"name": "tickvals"},
          "transform": [{"filter": "datum.k === 'major'"}],
          "mark": {"type": "tick", "orient": "vertical", "color": "#222222", "thickness": 1.8, "size": 20, "clip": true, "opacity": 1},
          "encoding": {"x": {"field": "r", "type": "quantitative"}, "y": {"datum": -3.8}}
        },
        {
          "data": {"name": "tickvals"},
          "transform": [{"filter": "datum.k === 'minor'"}],
          "mark": {"type": "tick", "orient": "vertical", "color": "#222222", "thickness": 1.8, "size": 10, "clip": true, "opacity": 1},
          "encoding": {"x": {"field": "r", "type": "quantitative"}, "y": {"datum": -3.8}}
        },
        {
          "data": {"name": "labels"},
          "transform": [{"filter": "datum.p === 'b'"}],
          "mark": {"type": "text", "font": "Liberation Sans", "fontWeight": "bold", "fontSize": 22, "align": "left", "baseline": "alphabetic", "color": "#000"},
          "encoding": {"x": {"datum": 4.2}, "y": {"datum": 6.0}, "text": {"field": "tag"}}
        },
        {
          "data": {"name": "labels"},
          "transform": [{"filter": "datum.p === 'b'"}],
          "mark": {"type": "text", "font": "Liberation Sans", "fontWeight": "bold", "fontSize": 20, "align": "center", "baseline": "middle", "color": "#000"},
          "encoding": {"x": {"datum": 31.37}, "y": {"datum": 6.2}, "text": {"field": "title"}}
        }
      ]
    }
  ]
}
